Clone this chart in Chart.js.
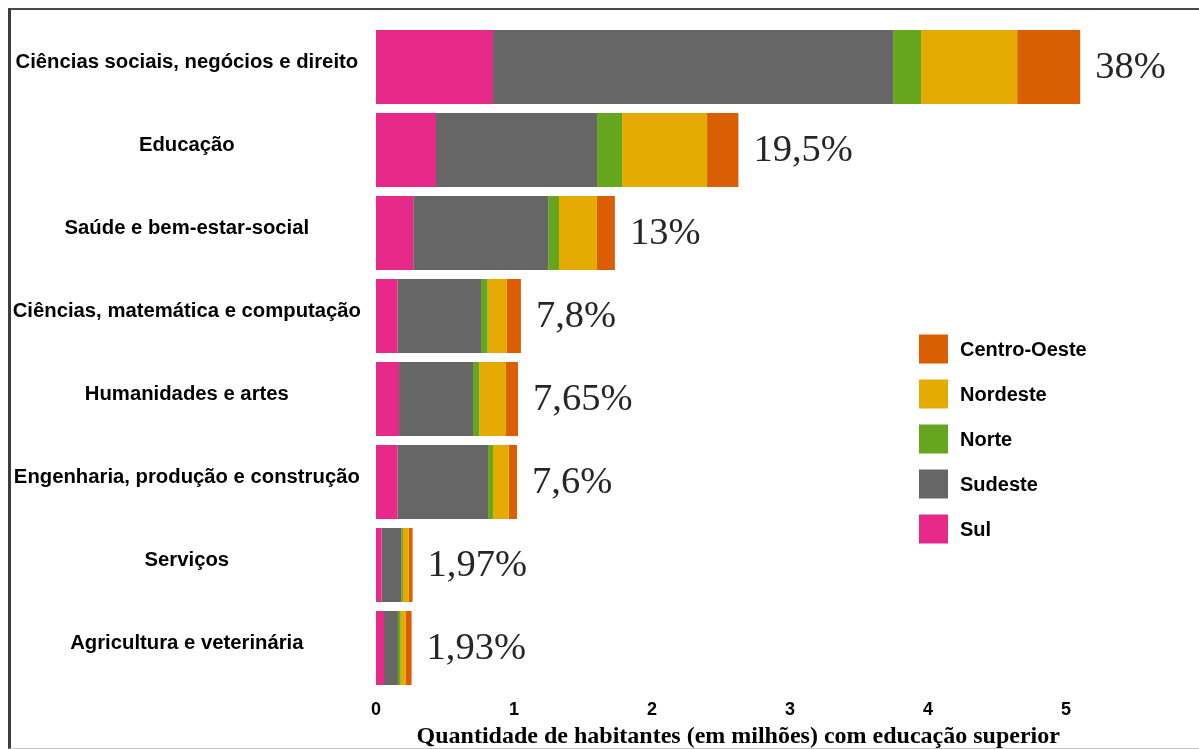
<!DOCTYPE html>
<html>
<head>
<meta charset="utf-8">
<script src="https://cdn.jsdelivr.net/npm/chart.js@4/dist/chart.umd.min.js"></script>
<style>
html,body{margin:0;padding:0;background:#fff;}
#wrap{position:relative;width:1199px;height:749px;overflow:hidden;background:#fff;}
#c{position:absolute;left:0;top:0;}
#frame{position:absolute;left:8px;top:8px;right:0;bottom:0;border-top:2px solid #4a4a4a;border-left:3px solid #3c3c3c;border-bottom:1px solid #c8c8c8;pointer-events:none;}
</style>
</head>
<body>
<div id="wrap"><canvas id="c" width="1199" height="749"></canvas><div id="frame"></div></div>
<script>
// ---- data (millions of inhabitants with higher education) ----
const categories = [
  'Ciências sociais, negócios e direito',
  'Educação',
  'Saúde e bem-estar-social',
  'Ciências, matemática e computação',
  'Humanidades e artes',
  'Engenharia, produção e construção',
  'Serviços',
  'Agricultura e veterinária'
];
const sul         = [0.848, 0.435, 0.270, 0.157, 0.167, 0.157, 0.041, 0.058];
const sudeste     = [2.899, 1.167, 0.978, 0.604, 0.536, 0.655, 0.142, 0.101];
const norte       = [0.203, 0.181, 0.078, 0.048, 0.046, 0.036, 0.012, 0.020];
const nordeste    = [0.696, 0.616, 0.275, 0.140, 0.193, 0.114, 0.043, 0.038];
const centroOeste = [0.457, 0.227, 0.130, 0.101, 0.087, 0.060, 0.027, 0.041];
const shareLabels = ['38%', '19,5%', '13%', '7,8%', '7,65%', '7,6%', '1,97%', '1,93%'];
const xTickValues = [0, 1, 2, 3, 4, 5];
const seriesNames = ['Sul', 'Sudeste', 'Norte', 'Nordeste', 'Centro-Oeste'];
const axisTitle = 'Quantidade de habitantes (em milhões) com educação superior';

const seriesColors = ['#e7298a', '#666666', '#66a61e', '#e6ab02', '#d95f02'];
const seriesData = [sul, sudeste, norte, nordeste, centroOeste];

const SANS = '"Liberation Sans", Arial, sans-serif';
const SERIF = '"Liberation Serif", "Times New Roman", serif';

const shareLabelPlugin = {
  id: 'shareLabels',
  afterDatasetsDraw(chart) {
    const ctx = chart.ctx;
    const last = chart.data.datasets.length - 1;
    const meta = chart.getDatasetMeta(last);
    ctx.save();
    ctx.font = '38.5px ' + SERIF;
    ctx.fillStyle = '#262626';
    ctx.textAlign = 'left';
    ctx.textBaseline = 'middle';
    meta.data.forEach((el, i) => {
      ctx.fillText(shareLabels[i], el.x + 15, el.y + 1);
    });
    ctx.restore();
  }
};

const legendPlugin = {
  id: 'customLegend',
  afterDraw(chart) {
    const ctx = chart.ctx;
    const ds = chart.data.datasets;
    ctx.save();
    ctx.font = 'bold 20px ' + SANS;
    ctx.textBaseline = 'middle';
    ctx.textAlign = 'left';
    let k = 0;
    for (let i = ds.length - 1; i >= 0; i--) {
      const cy = 349 + k * 45;
      ctx.fillStyle = ds[i].backgroundColor;
      ctx.fillRect(919, cy - 14.5, 29, 29);
      ctx.fillStyle = '#000';
      ctx.fillText(ds[i].label, 960, cy + 1);
      k++;
    }
    ctx.restore();
  }
};

new Chart(document.getElementById('c'), {
  type: 'bar',
  data: {
    labels: categories,
    datasets: seriesNames.map((name, i) => ({
      label: name,
      data: seriesData[i],
      backgroundColor: seriesColors[i],
      borderWidth: 0,
      categoryPercentage: 1.0,
      barPercentage: 0.892
    }))
  },
  options: {
    indexAxis: 'y',
    responsive: false,
    animation: false,
    layout: { padding: { left: 0, top: 25.5, right: 98.5, bottom: 0 } },
    plugins: { legend: { display: false }, tooltip: { enabled: false } },
    scales: {
      x: {
        stacked: true,
        min: 0,
        max: 5.25,
        grid: { display: false, drawTicks: false },
        border: { display: false },
        afterBuildTicks(scale) { scale.ticks = xTickValues.map(v => ({ value: v })); },
        afterFit(scale) { scale.height = 59.5; scale.paddingLeft = 0; scale.paddingRight = 0; },
        ticks: {
          padding: 9.5,
          color: '#000',
          font: { family: '"Liberation Sans Narrow", "Liberation Sans", Arial, sans-serif', weight: 'bold', size: 18 },
          callback: v => String(v)
        },
        title: {
          display: true,
          text: axisTitle,
          color: '#000',
          font: { family: SERIF, weight: 'bold', size: 24, lineHeight: 1.0 },
          padding: { top: 0, bottom: 0 }
        }
      },
      y: {
        stacked: true,
        grid: { display: false, drawTicks: false },
        border: { display: false },
        afterFit(scale) { scale.width = 376; scale.paddingTop = 0; scale.paddingBottom = 0; },
        ticks: {
          crossAlign: 'center',
          padding: 15,
          labelOffset: -5,
          color: '#000',
          font: { family: SANS, weight: 'bold', size: 20.3 }
        }
      }
    }
  },
  plugins: [shareLabelPlugin, legendPlugin]
});
</script>
</body>
</html>
